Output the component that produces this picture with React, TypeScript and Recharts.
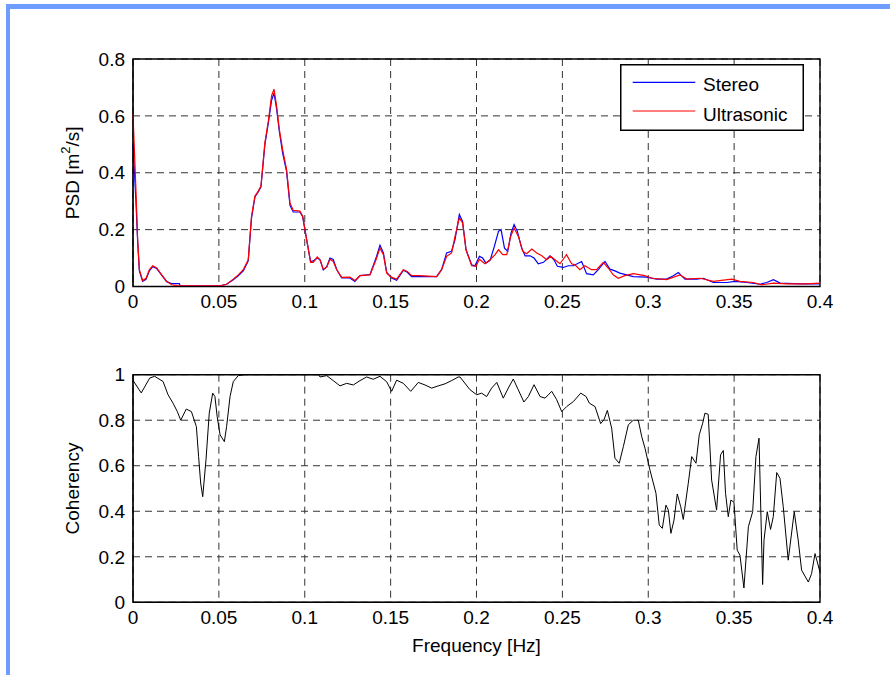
import React from 'react';
import {
  LineChart,
  Line,
  XAxis,
  YAxis,
  CartesianGrid,
  ReferenceArea,
  Legend
} from 'recharts';

// frequency axis ticks (Hz)
const freqTicks = [0, 0.05, 0.1, 0.15, 0.2, 0.25, 0.3, 0.35, 0.4];
const psdTicks = [0, 0.2, 0.4, 0.6, 0.8];
const cohTicks = [0, 0.2, 0.4, 0.6, 0.8, 1];

// PSD - stereo camera
const stereoFreq = [
  0, 0.0017, 0.0027, 0.0037, 0.0056, 0.0076, 0.0095, 0.0115, 0.0138, 0.0167, 0.0196, 0.0225, 0.027, 0.0275,
  0.0507, 0.0545, 0.0584, 0.0613, 0.0642, 0.0671, 0.069, 0.071, 0.0726, 0.0745, 0.0768, 0.0788, 0.0807, 0.0821,
  0.0836, 0.0852, 0.0871, 0.0894, 0.0914, 0.0933, 0.0972, 0.0988, 0.1011, 0.1034, 0.105, 0.1073, 0.1089, 0.1108,
  0.1128, 0.1147, 0.1166, 0.1186, 0.1215, 0.1263, 0.1292, 0.1322, 0.138, 0.1415, 0.1438, 0.1458, 0.1477, 0.1506,
  0.1535, 0.1574, 0.1597, 0.1622, 0.167, 0.1768, 0.1797, 0.1826, 0.1855, 0.1875, 0.19, 0.1919, 0.1939, 0.1972,
  0.1991, 0.2017, 0.2036, 0.2055, 0.2079, 0.2104, 0.2128, 0.2143, 0.2163, 0.2182, 0.2201, 0.2219, 0.2238, 0.2263,
  0.2283, 0.2312, 0.2335, 0.236, 0.239, 0.2428, 0.2451, 0.2471, 0.2505, 0.2534, 0.2564, 0.2612, 0.2641, 0.268,
  0.2709, 0.2748, 0.2777, 0.2806, 0.2835, 0.2913, 0.2991, 0.3049, 0.3107, 0.3146, 0.3175, 0.3214, 0.3282, 0.3321,
  0.3379, 0.3457, 0.3505, 0.3573, 0.3651, 0.369, 0.3729, 0.3768, 0.3884, 0.4
];
const stereoPsd = [
  0.5, 0.3, 0.16, 0.055, 0.018, 0.025, 0.055, 0.07, 0.063, 0.04, 0.017, 0.01, 0.01, 0.002,
  0.002, 0.008, 0.024, 0.038, 0.055, 0.09, 0.24, 0.315, 0.33, 0.35, 0.5, 0.575, 0.655, 0.68,
  0.625, 0.545, 0.47, 0.405, 0.285, 0.262, 0.262, 0.245, 0.165, 0.088, 0.09, 0.1, 0.094, 0.058,
  0.07, 0.1, 0.095, 0.06, 0.03, 0.03, 0.018, 0.038, 0.042, 0.1, 0.145, 0.118, 0.05, 0.03,
  0.022, 0.057, 0.05, 0.035, 0.035, 0.035, 0.06, 0.118, 0.124, 0.165, 0.253, 0.229, 0.129, 0.076,
  0.073, 0.106, 0.1, 0.082, 0.092, 0.141, 0.194, 0.2, 0.135, 0.124, 0.188, 0.218, 0.194, 0.135,
  0.108, 0.108, 0.1, 0.08, 0.085, 0.108, 0.094, 0.071, 0.067, 0.073, 0.073, 0.088, 0.045, 0.041,
  0.059, 0.088, 0.061, 0.055, 0.047, 0.035, 0.033, 0.026, 0.026, 0.038, 0.049, 0.026, 0.026, 0.029,
  0.014, 0.014, 0.018, 0.014, 0.008, 0.014, 0.024, 0.012, 0.009, 0.009
];

// PSD - ultrasonic anemometer
const ultraFreq = [
  0, 0.0017, 0.0027, 0.0037, 0.0056, 0.0076, 0.0095, 0.0115, 0.0138, 0.0167, 0.0196, 0.0225, 0.0264,
  0.0507, 0.0545, 0.0584, 0.0613, 0.0642, 0.0671, 0.069, 0.071, 0.0726, 0.0745, 0.0768, 0.0788, 0.0807, 0.0821,
  0.0836, 0.0852, 0.0871, 0.0894, 0.0914, 0.0933, 0.0972, 0.0988, 0.1011, 0.1034, 0.105, 0.1073, 0.1089, 0.1108,
  0.1128, 0.1147, 0.1166, 0.1186, 0.1215, 0.1263, 0.1292, 0.1322, 0.138, 0.1415, 0.1438, 0.1458, 0.1477, 0.1506,
  0.1535, 0.1574, 0.1597, 0.1622, 0.167, 0.1768, 0.1797, 0.1826, 0.1855, 0.1875, 0.19, 0.1919, 0.1939, 0.1972,
  0.1997, 0.2017, 0.2049, 0.2079, 0.2108, 0.2128, 0.2153, 0.2176, 0.2199, 0.2219, 0.2244, 0.2269, 0.2292, 0.2322,
  0.2351, 0.238, 0.2409, 0.2432, 0.2457, 0.2486, 0.2524, 0.2554, 0.2573, 0.2602, 0.2631, 0.267, 0.2699, 0.2738,
  0.2767, 0.2796, 0.2825, 0.2864, 0.2913, 0.298, 0.302, 0.3107, 0.3185, 0.3224, 0.3301, 0.3379, 0.3486, 0.3534,
  0.3612, 0.3661, 0.3729, 0.3806, 0.3923, 0.4
];
const ultraPsd = [
  0.606, 0.341, 0.165, 0.059, 0.021, 0.029, 0.059, 0.073, 0.065, 0.041, 0.018, 0.006, 0.002,
  0.002, 0.008, 0.026, 0.041, 0.059, 0.094, 0.247, 0.318, 0.332, 0.353, 0.506, 0.582, 0.671, 0.694,
  0.635, 0.553, 0.482, 0.412, 0.294, 0.268, 0.265, 0.247, 0.165, 0.085, 0.085, 0.104, 0.094, 0.061,
  0.068, 0.096, 0.088, 0.059, 0.032, 0.033, 0.021, 0.038, 0.041, 0.094, 0.135, 0.112, 0.047, 0.032,
  0.026, 0.059, 0.053, 0.038, 0.038, 0.035, 0.059, 0.106, 0.118, 0.176, 0.241, 0.224, 0.129, 0.073,
  0.071, 0.096, 0.08, 0.094, 0.112, 0.129, 0.112, 0.112, 0.176, 0.206, 0.176, 0.124, 0.115, 0.132,
  0.118, 0.108, 0.094, 0.106, 0.094, 0.08, 0.112, 0.08, 0.076, 0.059, 0.073, 0.059, 0.059, 0.085,
  0.065, 0.041, 0.029, 0.038, 0.045, 0.038, 0.029, 0.024, 0.041, 0.026, 0.029, 0.018, 0.026, 0.018,
  0.014, 0.006, 0.012, 0.009, 0.009, 0.012
];

// coherency between the two
const cohFreq = [
  0, 0.0048, 0.0097, 0.0126, 0.0175, 0.0204, 0.0233, 0.0258, 0.0278, 0.031, 0.034, 0.0369, 0.0382, 0.0394,
  0.0406, 0.0425, 0.0444, 0.0464, 0.0477, 0.049, 0.0507, 0.0532, 0.0545, 0.0565, 0.0584, 0.0613, 0.065, 0.108,
  0.1089, 0.1128, 0.1166, 0.1205, 0.1244, 0.1283, 0.1322, 0.136, 0.1399, 0.1438, 0.1477, 0.1506, 0.1535, 0.1574,
  0.1617, 0.1661, 0.17, 0.1739, 0.1778, 0.1817, 0.1855, 0.1894, 0.1904, 0.1962, 0.2001, 0.203, 0.2059, 0.2088,
  0.2118, 0.2156, 0.2185, 0.2214, 0.2243, 0.2276, 0.2302, 0.2335, 0.237, 0.2399, 0.2438, 0.2467, 0.2496, 0.2525,
  0.2564, 0.2607, 0.2638, 0.2657, 0.269, 0.2723, 0.2742, 0.2762, 0.2787, 0.2806, 0.2831, 0.2855, 0.2884, 0.2913,
  0.2942, 0.2962, 0.2981, 0.301, 0.3045, 0.3064, 0.3082, 0.3103, 0.3117, 0.3132, 0.315, 0.3169, 0.3189, 0.3204,
  0.3233, 0.3253, 0.3278, 0.3297, 0.3317, 0.333, 0.3349, 0.3369, 0.3398, 0.3421, 0.3437, 0.345, 0.3466, 0.3481,
  0.3499, 0.3518, 0.3534, 0.3557, 0.3583, 0.3608, 0.3627, 0.3645, 0.3666, 0.3674, 0.3693, 0.3712, 0.3728, 0.3748,
  0.3767, 0.3786, 0.3815, 0.385, 0.3873, 0.3893, 0.3932, 0.3951, 0.3971, 0.4
];
const cohValues = [
  0.975, 0.92, 0.985, 0.993, 0.97, 0.912, 0.875, 0.838, 0.8, 0.849, 0.838, 0.772, 0.64, 0.524,
  0.464, 0.626, 0.831, 0.919, 0.904, 0.816, 0.736, 0.706, 0.772, 0.904, 0.97, 0.996, 1.0, 1.0,
  0.99, 0.996, 0.974, 0.951, 0.962, 0.955, 0.974, 0.99, 0.98, 0.993, 0.969, 0.927, 0.976, 0.962,
  0.927, 0.966, 0.955, 0.941, 0.951, 0.96, 0.974, 0.99, 0.99, 0.934, 0.912, 0.919, 0.904, 0.941,
  0.966, 0.897, 0.941, 0.981, 0.934, 0.88, 0.904, 0.956, 0.904, 0.897, 0.927, 0.89, 0.838, 0.86,
  0.882, 0.919, 0.904, 0.875, 0.86, 0.785, 0.802, 0.843, 0.765, 0.633, 0.611, 0.684, 0.78, 0.8,
  0.8, 0.728, 0.677, 0.581, 0.479, 0.339, 0.325, 0.427, 0.405, 0.303, 0.361, 0.476, 0.42, 0.364,
  0.523, 0.64, 0.611, 0.736, 0.787, 0.831, 0.826, 0.537, 0.405, 0.648, 0.667, 0.479, 0.376, 0.449,
  0.44, 0.229, 0.207, 0.063, 0.332, 0.398, 0.64, 0.721, 0.078, 0.273, 0.398, 0.32, 0.376, 0.57,
  0.545, 0.42, 0.185, 0.398, 0.273, 0.141, 0.089, 0.126, 0.214, 0.133
];

const toSeries = (fs: number[], vs: number[]) => fs.map((f, i) => ({ f, v: vs[i] }));
const stereoData = toSeries(stereoFreq, stereoPsd);
const ultraData = toSeries(ultraFreq, ultraPsd);
const cohData = toSeries(cohFreq, cohValues);

const FONT = '"Liberation Sans", Arial, Helvetica, sans-serif';
const tickStyle = { fontSize: 19, fill: '#000', fontFamily: FONT };

const YTitle = (props: any) => {
  const vb = props.viewBox || {};
  const cx = 72;
  const cy = (vb.y ?? 0) + (vb.height ?? 0) / 2;
  return (
    <text
      x={cx}
      y={cy}
      transform={`rotate(-90 ${cx} ${cy})`}
      textAnchor="middle"
      dominantBaseline="central"
      fontSize={19}
      fontFamily={FONT}
      fill="#000"
    >
      {props.sup ? (
        <>
          PSD [m<tspan dy={-7} fontSize={13}>2</tspan>
          <tspan dy={7}>/s]</tspan>
        </>
      ) : (
        props.title
      )}
    </text>
  );
};

const XTitle = (props: any) => {
  const vb = props.viewBox || {};
  const cx = (vb.x ?? 0) + (vb.width ?? 0) / 2;
  return (
    <text x={cx} y={(vb.y ?? 0) + 50} textAnchor="middle" fontSize={19} fontFamily={FONT} fill="#000">
      Frequency [Hz]
    </text>
  );
};

const LegendBox = () => (
  <svg width={184} height={67} style={{ display: 'block' }}>
    <rect x={0.75} y={0.75} width={182.5} height={65.5} fill="#fff" stroke="#000" strokeWidth={1.5} />
    <line x1={12.7} x2={75.3} y1={18.3} y2={18.3} stroke="#0000ff" strokeWidth={1.2} />
    <text x={83} y={26.5} fontSize={19} fontFamily={FONT} fill="#000">Stereo</text>
    <line x1={12.7} x2={75.3} y1={47} y2={47} stroke="#ff0000" strokeWidth={1.2} />
    <text x={83} y={56.5} fontSize={19} fontFamily={FONT} fill="#000">Ultrasonic</text>
  </svg>
);

export default function App() {
  return (
    <div style={{ position: 'absolute', left: 0, top: 0, width: 890, height: 675, background: '#fff', overflow: 'hidden' }}>
      {/* blue page frame */}
      <div style={{ position: 'absolute', left: 6, top: 4, width: 884, height: 5, background: '#6f9cff' }} />
      <div style={{ position: 'absolute', left: 6, top: 4, width: 3.5, height: 671, background: '#6f9cff' }} />

      <div style={{ position: 'absolute', left: 0, top: 0 }}>
        <LineChart width={890} height={330} margin={{ top: 59, right: 70, bottom: 13.5, left: 73 }}>
          <CartesianGrid strokeDasharray="7 5" stroke="#333" strokeWidth={1} />
          <XAxis
            dataKey="f"
            type="number"
            domain={[0, 0.4]}
            ticks={freqTicks}
            interval={0}
            tickLine={false}
            axisLine={{ stroke: '#000' }}
            tick={tickStyle}
            height={30}
            allowDuplicatedCategory={false}
          />
          <YAxis
            type="number"
            domain={[0, 0.8]}
            ticks={psdTicks}
            interval={0}
            tickLine={false}
            axisLine={{ stroke: '#000' }}
            tick={tickStyle}
            width={60}
            label={<YTitle sup />}
          />
          <ReferenceArea x1={0} x2={0.4} y1={0} y2={0.8} fill="none" fillOpacity={0} stroke="#000" strokeWidth={1.4} />
          <Line data={stereoData} dataKey="v" name="Stereo" type="linear" stroke="#0000ff" strokeWidth={1.2} dot={false} isAnimationActive={false} />
          <Line data={ultraData} dataKey="v" name="Ultrasonic" type="linear" stroke="#ff0000" strokeWidth={1.2} dot={false} isAnimationActive={false} />
          <Legend
            layout="vertical"
            align="center"
            verticalAlign="middle"
            content={() => <LegendBox />}
            wrapperStyle={{ left: 620, top: 64, width: 184, height: 67 }}
          />
        </LineChart>
      </div>

      <div style={{ position: 'absolute', left: 0, top: 315 }}>
        <LineChart width={890} height={360} margin={{ top: 59.7, right: 70, bottom: 12.7, left: 73 }}>
          <CartesianGrid strokeDasharray="7 5" stroke="#333" strokeWidth={1} />
          <XAxis
            dataKey="f"
            type="number"
            domain={[0, 0.4]}
            ticks={freqTicks}
            interval={0}
            tickLine={false}
            axisLine={{ stroke: '#000' }}
            tick={tickStyle}
            height={60}
            label={<XTitle />}
          />
          <YAxis
            type="number"
            domain={[0, 1]}
            ticks={cohTicks}
            interval={0}
            tickLine={false}
            axisLine={{ stroke: '#000' }}
            tick={tickStyle}
            width={60}
            label={<YTitle title="Coherency" />}
          />
          <ReferenceArea x1={0} x2={0.4} y1={0} y2={1} fill="none" fillOpacity={0} stroke="#000" strokeWidth={1.4} />
          <Line data={cohData} dataKey="v" type="linear" stroke="#000" strokeWidth={1} dot={false} isAnimationActive={false} />
        </LineChart>
      </div>
    </div>
  );
}
